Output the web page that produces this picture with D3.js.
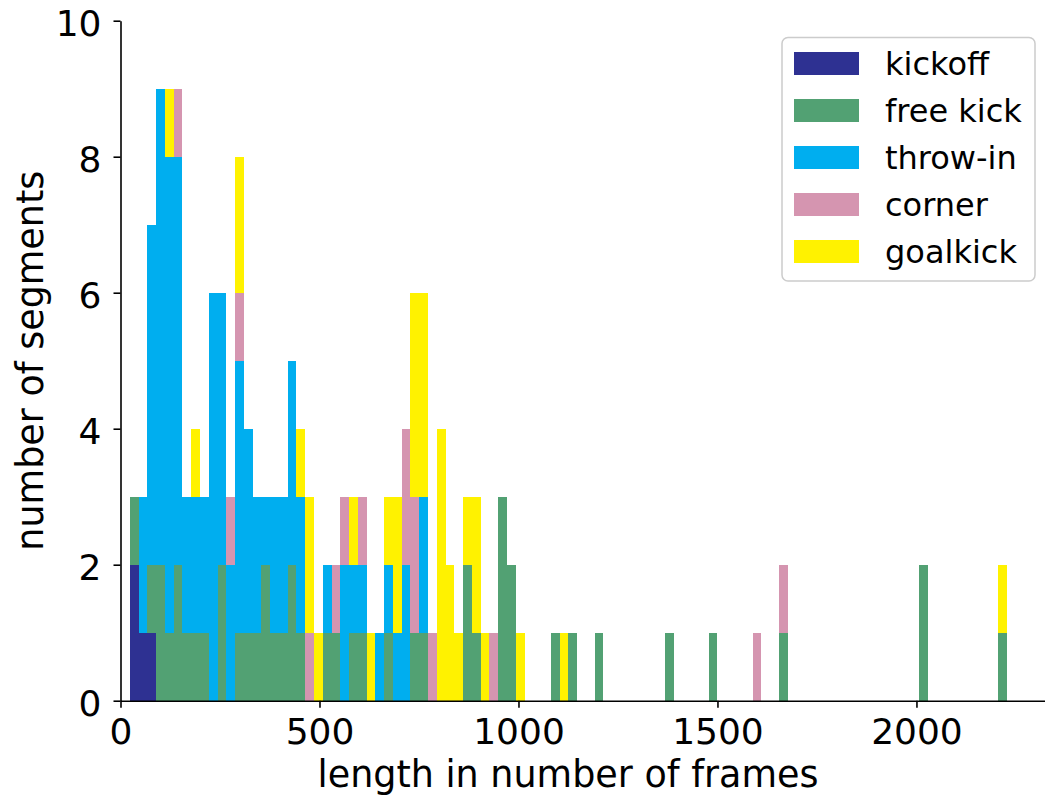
<!DOCTYPE html>
<html>
<head>
<meta charset="utf-8">
<script src="https://cdn.jsdelivr.net/npm/d3@7/dist/d3.min.js"></script>
<style>
  body { margin: 0; background: #fff; }
  text { font-family: "DejaVu Sans", sans-serif; }
</style>
</head>
<body>
<svg id="chart" width="1045" height="798"></svg>
<script>
// histogram: 100 equal bins between binMin and binMax (frames)
const binMin = 23.4;
const binMax = 2227.4;
const nBins = 100;

const categories = ["kickoff", "free kick", "throw-in", "corner", "goalkick"];

// counts per bin
const kickoff = [
  2,1,1,0,0,0,0,0,0,0, 0,0,0,0,0,0,0,0,0,0,
  0,0,0,0,0,0,0,0,0,0, 0,0,0,0,0,0,0,0,0,0,
  0,0,0,0,0,0,0,0,0,0, 0,0,0,0,0,0,0,0,0,0,
  0,0,0,0,0,0,0,0,0,0, 0,0,0,0,0,0,0,0,0,0,
  0,0,0,0,0,0,0,0,0,0, 0,0,0,0,0,0,0,0,0,0
];
const freeKick = [
  1,0,1,2,1,2,1,1,1,0, 2,0,1,1,1,2,1,1,2,1,
  0,0,1,1,0,1,1,0,0,1, 0,0,1,1,0,0,0,0,2,1,
  0,0,3,2,0,0,0,0,1,0, 1,0,0,1,0,0,0,0,0,0,
  0,1,0,0,0,0,1,0,0,0, 0,0,0,0,1,0,0,0,0,0,
  0,0,0,0,0,0,0,0,0,0, 2,0,0,0,0,0,0,0,0,1
];
const throwIn = [
  0,2,5,7,7,6,2,2,2,6, 4,2,4,3,2,1,2,2,3,2,
  0,0,1,0,2,1,1,0,1,1, 1,2,0,2,0,0,0,0,0,0,
  0,0,0,0,0,0,0,0,0,0, 0,0,0,0,0,0,0,0,0,0,
  0,0,0,0,0,0,0,0,0,0, 0,0,0,0,0,0,0,0,0,0,
  0,0,0,0,0,0,0,0,0,0, 0,0,0,0,0,0,0,0,0,0
];
const corner = [
  0,0,0,0,0,1,0,0,0,0, 0,1,1,0,0,0,0,0,0,0,
  1,0,0,1,1,0,1,0,0,0, 0,2,2,0,1,0,0,0,0,0,
  0,1,0,0,0,0,0,0,0,0, 0,0,0,0,0,0,0,0,0,0,
  0,0,0,0,0,0,0,0,0,0, 0,1,0,0,1,0,0,0,0,0,
  0,0,0,0,0,0,0,0,0,0, 0,0,0,0,0,0,0,0,0,0
];
const goalkick = [
  0,0,0,0,1,0,0,1,0,0, 0,0,2,0,0,0,0,0,0,1,
  2,1,0,0,0,1,0,1,0,1, 2,0,3,3,0,4,2,1,1,2,
  1,0,0,0,1,0,0,0,0,1, 0,0,0,0,0,0,0,0,0,0,
  0,0,0,0,0,0,0,0,0,0, 0,0,0,0,0,0,0,0,0,0,
  0,0,0,0,0,0,0,0,0,0, 0,0,0,0,0,0,0,0,0,1
];

const xTicks = [0, 500, 1000, 1500, 2000];
const yTicks = [0, 2, 4, 6, 8, 10];

const colors = ["#2e3192", "#52a173", "#00aeef", "#d595b0", "#fff200"];

// layout
const svg = d3.select("#chart");
const FONT_TICK = 36;
const FONT_LABEL = 36.5;
const FONT_LEGEND = 32;

const x = d3.scaleLinear().domain([0, 2323]).range([120.5, 1045]);
const y = d3.scaleLinear().domain([0, 10]).range([700.7, 20.7]);

// build table for stacking
const series = [kickoff, freeKick, throwIn, corner, goalkick];
const binWidth = (binMax - binMin) / nBins;
const table = d3.range(nBins).map((i) => {
  const row = { x0: binMin + i * binWidth, x1: binMin + (i + 1) * binWidth };
  categories.forEach((c, k) => (row[c] = series[k][i]));
  return row;
});

const stacked = d3.stack().keys(categories)(table);

// bars (crisp edges so neighbouring bins join without seams)
svg
  .append("g")
  .attr("shape-rendering", "crispEdges")
  .selectAll("g")
  .data(stacked)
  .join("g")
  .attr("fill", (d, i) => colors[i])
  .selectAll("rect")
  .data((d) => d.filter((s) => s[1] > s[0]))
  .join("rect")
  .attr("x", (d) => x(d.data.x0))
  .attr("width", (d) => x(d.data.x1) - x(d.data.x0))
  .attr("y", (d) => y(d[1]))
  .attr("height", (d) => y(d[0]) - y(d[1]));

// x axis
const gx = svg
  .append("g")
  .attr("transform", `translate(0,${y(0)})`)
  .call(
    d3.axisBottom(x).tickValues(xTicks).tickFormat(d3.format("d"))
      .tickSize(7).tickSizeOuter(0).tickPadding(11)
  );
gx.selectAll("text").attr("font-size", FONT_TICK).attr("fill", "#000");
gx.selectAll("line, path").attr("stroke", "#000").attr("stroke-width", 1.6);

// y axis
const gy = svg
  .append("g")
  .attr("transform", `translate(${x(0)},0)`)
  .call(
    d3.axisLeft(y).tickValues(yTicks).tickFormat(d3.format("d"))
      .tickSize(7).tickSizeOuter(0).tickPadding(12)
  );
gy.selectAll("text").attr("font-size", FONT_TICK).attr("fill", "#000").attr("dy", "0.42em");
gy.selectAll("line, path").attr("stroke", "#000").attr("stroke-width", 1.6);

// axis labels
svg
  .append("text")
  .attr("x", 568)
  .attr("y", 787)
  .attr("text-anchor", "middle")
  .attr("font-size", FONT_LABEL)
  .text("length in number of frames");

svg
  .append("text")
  .attr("transform", `translate(43,${(y(0) + y(10)) / 2}) rotate(-90)`)
  .attr("text-anchor", "middle")
  .attr("font-size", FONT_LABEL)
  .text("number of segments");

// legend
const legend = svg.append("g").attr("transform", "translate(782,37.5)");
legend
  .append("rect")
  .attr("width", 253)
  .attr("height", 243.5)
  .attr("rx", 6)
  .attr("fill", "#fff")
  .attr("stroke", "#cccccc")
  .attr("stroke-width", 1.5);

const items = legend
  .selectAll("g.item")
  .data(categories)
  .join("g")
  .attr("class", "item")
  .attr("transform", (d, i) => `translate(0,${i * 47})`);
items
  .append("rect")
  .attr("x", 12)
  .attr("y", 14.5)
  .attr("width", 65)
  .attr("height", 23)
  .attr("fill", (d, i) => colors[i]);
items
  .append("text")
  .attr("x", 103)
  .attr("y", 37.5)
  .attr("font-size", FONT_LEGEND)
  .text((d) => d);
</script>
</body>
</html>
